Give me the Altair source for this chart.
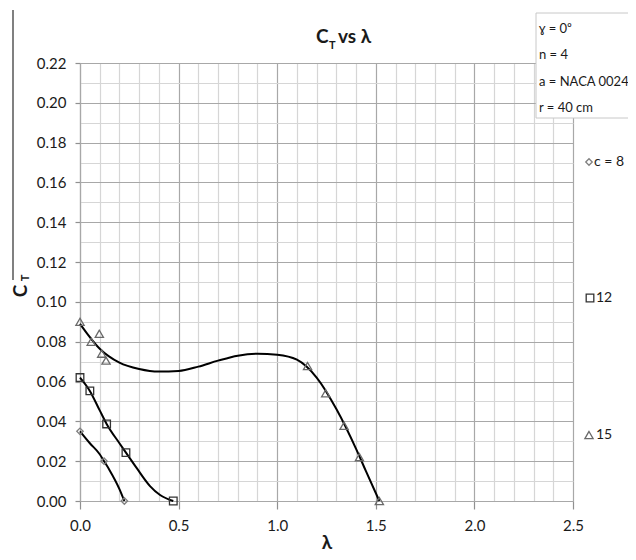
import altair as alt
import pandas as pd

# ---- data ----
c8_lam = [0.0, 0.122, 0.225]
c8_ct = [0.035, 0.020, 0.0]

c12_lam = [0.0, 0.05, 0.135, 0.233, 0.473]
c12_ct = [0.062, 0.0553, 0.0387, 0.0243, 0.0]

c15_lam = [0.0, 0.057, 0.098, 0.110, 0.132, 1.154, 1.246, 1.339, 1.417, 1.518]
c15_ct = [0.090, 0.080, 0.084, 0.074, 0.0705, 0.0678, 0.0541, 0.0378, 0.022, 0.0]

# trend lines
t8_lam = [0.0, 0.05, 0.10, 0.122, 0.15, 0.20, 0.225]
t8_ct = [0.035, 0.029, 0.0235, 0.020, 0.0155, 0.006, 0.0]

t12_lam = [0.0, 0.05, 0.10, 0.135, 0.20, 0.233, 0.287, 0.355, 0.406, 0.473]
t12_ct = [0.062, 0.0553, 0.0455, 0.0387, 0.029, 0.0243, 0.0166, 0.0075, 0.0030, 0.0]

t15_lam = [0.0, 0.1, 0.2, 0.3, 0.4, 0.5, 0.6, 0.7, 0.8, 0.9, 1.0, 1.1, 1.2, 1.3, 1.4, 1.45, 1.518]
t15_ct = [0.089, 0.0765, 0.0695, 0.0663, 0.0650, 0.0653, 0.0675, 0.0705, 0.0730, 0.0740,
          0.0735, 0.0710, 0.0620, 0.0462, 0.0262, 0.0150, 0.0]

x_ticks = [round(i * 0.1, 1) for i in range(26)]
y_ticks = [round(i * 0.01, 2) for i in range(23)]

info_lines = ["ɣ = 0⁰", "n = 4", "a = NACA 0024", "r = 40 cm"]
legend_labels = ["c = 8", "12", "15"]

FONT = "Lato, Open Sans, sans-serif"
TXT = "#1a1a1a"

def frame(lam, ct, name):
    return pd.DataFrame({"lam": lam, "ct": ct, "series": name})

trend = pd.concat([frame(t8_lam, t8_ct, "8"), frame(t12_lam, t12_ct, "12"),
                   frame(t15_lam, t15_ct, "15")])

xscale = alt.Scale(domain=[0, 2.5], nice=False, zero=False)
yscale = alt.Scale(domain=[0, 0.22], nice=False, zero=False)

x_major = "abs(datum.value*2 - round(datum.value*2)) < 0.01"
y_major = "abs(datum.value*50 - round(datum.value*50)) < 0.01"

xaxis = alt.Axis(
    values=x_ticks, title=None, grid=True,
    gridColor={"condition": {"test": x_major, "value": "#a8a8a8"}, "value": "#d6d6d6"},
    gridWidth=1.2,
    tickColor={"condition": {"test": x_major, "value": "#909090"}, "value": "transparent"},
    tickSize=8, tickWidth=1.2,
    labelExpr=f"{x_major} ? format(datum.value, '.1f') : ''",
    labelFont=FONT, labelFontSize=15, labelColor=TXT, labelPadding=9,
    labelOverlap=False, labelFlush=False,
    domain=True, domainColor="#a8a8a8", domainWidth=1.2,
)
yaxis = alt.Axis(
    values=y_ticks, title=None, grid=True,
    gridColor={"condition": {"test": y_major, "value": "#a8a8a8"}, "value": "#d6d6d6"},
    gridWidth=1.2,
    tickColor={"condition": {"test": y_major, "value": "#909090"}, "value": "transparent"},
    tickSize=5, tickWidth=1.2,
    labelExpr=f"{y_major} ? format(datum.value, '.2f') : ''",
    labelFont=FONT, labelFontSize=15, labelColor=TXT, labelPadding=9,
    labelOverlap=False, labelFlush=False,
    domain=True, domainColor="#a8a8a8", domainWidth=1.2,
)

X = alt.X("lam:Q", scale=xscale, axis=xaxis)
Y = alt.Y("ct:Q", scale=yscale, axis=yaxis)

lines = alt.Chart(trend).mark_line(color="black", strokeWidth=2, interpolate="monotone").encode(
    x=X, y=Y, detail="series:N",
)

def pts(lam, ct, name, shape, color, size):
    return alt.Chart(frame(lam, ct, name)).mark_point(
        shape=shape, filled=False, stroke=color, strokeWidth=1.3, size=size, opacity=1
    ).encode(x=X, y=Y)

p8 = pts(c8_lam, c8_ct, "8", "diamond", "#808080", 42)
p12 = pts(c12_lam, c12_ct, "12", "square", "#333333", 58)
p15 = pts(c15_lam, c15_ct, "15", "triangle-up", "#6a6a6a", 68)

one = alt.Data(values=[{}])

def txt(s, x, y, size=16, bold=False, align="left", baseline="middle", angle=0, color=TXT):
    kw = dict(text=s, font=FONT, fontSize=size, align=align, baseline=baseline, color=color)
    if bold:
        kw["fontWeight"] = "bold"
    if angle:
        kw["angle"] = angle
    return alt.Chart(one).mark_text(**kw).encode(x=alt.value(x), y=alt.value(y))

# title "C_T vs λ"
title = [
    txt("C", 236, -20, size=19, bold=True, baseline="alphabetic"),
    txt("T", 249, -14, size=11, bold=True, baseline="alphabetic"),
    txt("vs λ", 258, -20, size=19, bold=True, baseline="alphabetic"),
]

# axis titles
ytitle = [
    txt("C", -59, 228, size=19, bold=True, align="center", angle=270),
    txt("T", -54, 215, size=11, bold=True, align="center", angle=270),
]
xtitle = [txt("λ", 247, 480, size=19, bold=True, align="center")]

# left border line
border = alt.Chart(one).mark_rule(color="#808080", strokeWidth=2).encode(
    x=alt.value(-67), y=alt.value(-53), y2=alt.value(217)
)

# info box
box = alt.Chart(one).mark_rect(fill="white", stroke="#c8c8c8", strokeWidth=1).encode(
    x=alt.value(456), x2=alt.value(560), y=alt.value(-50), y2=alt.value(55)
)
info = [txt(s, 459, yy, size=13) for s, yy in zip(info_lines, [-34, -8, 19, 45])]

# series legend
leg_sym = [
    alt.Chart(one).mark_point(shape="diamond", filled=False, stroke="#808080", strokeWidth=1.3, size=42, opacity=1)
    .encode(x=alt.value(509), y=alt.value(99)),
    alt.Chart(one).mark_point(shape="square", filled=False, stroke="#333333", strokeWidth=1.3, size=58, opacity=1)
    .encode(x=alt.value(510), y=alt.value(235)),
    alt.Chart(one).mark_point(shape="triangle-up", filled=False, stroke="#6a6a6a", strokeWidth=1.3, size=68, opacity=1)
    .encode(x=alt.value(509), y=alt.value(372)),
]
leg_txt = [txt(s, xx, yy, size=14) for s, xx, yy in zip(legend_labels, [514, 516, 516], [99, 235, 372])]

chart = alt.layer(
    lines, p8, p12, p15, border, box, *info, *title, *ytitle, *xtitle, *leg_sym, *leg_txt
).properties(
    width=493, height=438,
    autosize=alt.AutoSizeParams(type="none"),
    padding={"left": 72, "top": 55, "right": 55, "bottom": 51},
    background="white",
).configure_view(stroke=None)

chart.save("out.html", embed_options={"renderer": "svg", "actions": False})
